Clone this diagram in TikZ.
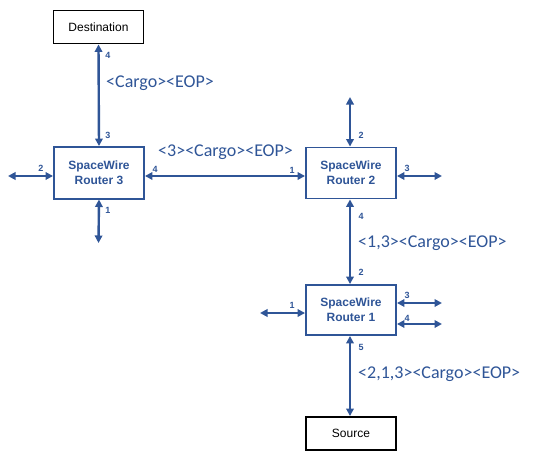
\documentclass[tikz,border=0pt]{standalone}
\usepackage{fontspec}
\setmainfont{Liberation Sans}
\newfontfamily\calibrifont{Carlito}
\usetikzlibrary{arrows.meta}
\definecolor{swblue}{RGB}{47,85,151}
\begin{document}
\begin{tikzpicture}[x=1pt,y=-1pt,
  router/.style={draw=swblue,line width=1.9pt,minimum width=90pt,minimum height=50pt,inner sep=0pt,
    align=center,font=\fontsize{12}{15}\selectfont\bfseries,text=swblue},
  endbox/.style={draw=black,line width=1.9pt,minimum width=90pt,minimum height=33pt,inner sep=0pt,
    font=\fontsize{12}{14}\selectfont},
  link/.style={draw=swblue,line width=2.4pt,{Triangle[length=7.5pt,width=7.5pt]}-{Triangle[length=7.5pt,width=7.5pt]}},
  port/.style={font=\fontsize{9}{9}\selectfont\bfseries,text=swblue,inner sep=0pt},
  msg/.style={font=\calibrifont\fontsize{18}{20}\selectfont,text=swblue,inner sep=0pt,anchor=west}]
\useasboundingbox (0,0) rectangle (535,460);
\node[endbox] (dest) at (98.5,27) {Destination};
\node[router,minimum height=52pt] (r3) at (99,173) {SpaceWire\\Router 3};
\node[router,minimum height=51pt] (r2) at (351,173) {SpaceWire\\Router 2};
\node[router,minimum height=50pt] (r1) at (351,310) {SpaceWire\\Router 1};
\node[endbox] (src) at (351,433.5) {Source};
% free ends
\coordinate (r3l) at (8,176);
\coordinate (r3b) at (98.5,243);
\coordinate (r2t) at (350,97);
\coordinate (r2r) at (442,176);
\coordinate (r1l) at (260,313);
\coordinate (r1ra) at (442,303);
\coordinate (r1rb) at (442,324);
% links
\draw[link] (dest.south) -- (r3.north);
\draw[link] (r3l) -- (r3.west |- r3l);
\draw[link] (r3.south |- 0,199.5) -- (r3b);
\draw[link] (r3.east |- r3l) -- (r2.west |- r3l);
\draw[link] (r2t) -- (r2t |- r2.north);
\draw[link] (r2.east |- r2r) -- (r2r);
\draw[link] (r2t |- r2.south) -- (r2t |- r1.north);
\draw[link] (r1l) -- (r1.west |- r1l);
\draw[link] (r1.east |- r1ra) -- (r1ra);
\draw[link] (r1.east |- r1rb) -- (r1rb);
\draw[link] (r2t |- r1.south) -- (r2t |- src.north);
% port labels
\node[port] (p-d4) at (108,55) {4};
\node[port] (p-r3-3) at (108,135) {3};
\node[port] (p-r3-2) at (41,168) {2};
\node[port] (p-r3-4) at (155,169) {4};
\node[port] (p-r3-1) at (108,210) {1};
\node[port] (p-r2-1) at (292,170) {1};
\node[port] (p-r2-2) at (361,135) {2};
\node[port] (p-r2-3) at (407,168) {3};
\node[port] (p-r2-4) at (361,216) {4};
\node[port] (p-r1-2) at (361,272) {2};
\node[port] (p-r1-1) at (292,305) {1};
\node[port] (p-r1-3) at (407,295) {3};
\node[port] (p-r1-4) at (407,318) {4};
\node[port] (p-r1-5) at (361,347) {5};
% messages
\node[msg] (m1) at (106,83) {<Cargo><EOP>};
\node[msg] (m2) at (158,152) {<3><Cargo><EOP>};
\node[msg] (m3) at (358,243) {<1,3><Cargo><EOP>};
\node[msg] (m4) at (358,374) {<2,1,3><Cargo><EOP>};
\end{tikzpicture}
\end{document}
